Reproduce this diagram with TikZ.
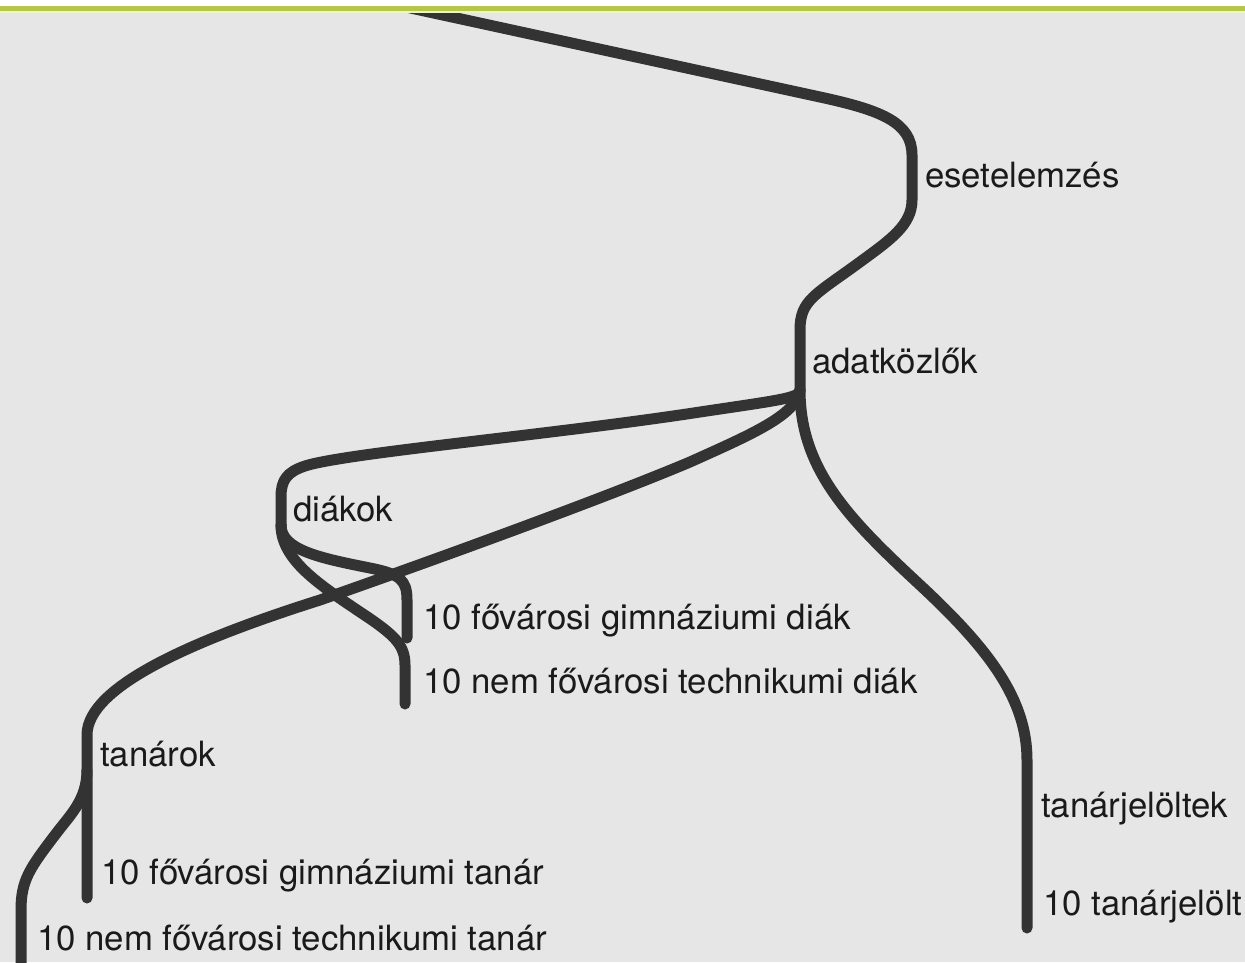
\documentclass[tikz,border=0pt]{standalone}
\usepackage{fontspec}
\setmainfont{TeX Gyre Heros}
\definecolor{bgc}{HTML}{E6E6E6}
\definecolor{wirec}{HTML}{333333}
\definecolor{txtc}{HTML}{1A1A1A}
\definecolor{greenc}{HTML}{B5C64B}
\definecolor{palec}{HTML}{EEF3C8}
\begin{document}
\begin{tikzpicture}[x=1pt,y=-1pt,
  wire/.style={line width=11pt, draw=wirec, line cap=round, line join=round},
  lbl/.style={anchor=base west, inner sep=0pt, text=txtc, font=\fontsize{34.8}{40}\selectfont}]
\useasboundingbox (0,0) rectangle (1245,962);
\clip (0,0) rectangle (1245,962);
\fill[bgc] (0,0) rectangle (1245,962);

% branching points
\coordinate (adat) at (800,390);
\coordinate (diak) at (281,525);
\coordinate (tanar) at (87,770);

% main line
\draw[wire] (360,-3) -- (820,97) .. controls (880,110) and (912,122) .. (912,155)
  -- (912,200) .. controls (912,225) and (890,240) .. (860,262)
  .. controls (815,295) and (800,300) .. (800,330) -- (adat);

% adatkozlok -> diakok
\draw[wire] (adat) .. controls (800,398) and (780,400) .. (700,412)
  .. controls (550,435) and (345,453) .. (305,466)
  .. controls (287,472) and (281,480) .. (281,497) -- (diak);

% adatkozlok -> tanarok
\draw[wire] (adat) .. controls (797,415) and (750,435) .. (690,462)
  .. controls (600,500) and (420,565) .. (320,600)
  .. controls (200,638) and (87,685) .. (87,735) -- (tanar) -- (87,898);

% adatkozlok -> tanarjeloltek
\draw[wire] (adat) .. controls (800,470) and (850,520) .. (920,585)
  .. controls (990,650) and (1027,700) .. (1027,760) -- (1027,928);

% diakok -> gimnaziumi diak
\draw[wire] (diak) .. controls (281,550) and (320,558) .. (370,568)
  .. controls (400,574) and (407,580) .. (407,600) -- (407,638);

% diakok -> technikumi diak
\draw[wire] (diak) .. controls (281,560) and (320,585) .. (360,612)
  .. controls (395,635) and (405,645) .. (405,665) -- (405,704);

% tanarok -> technikumi tanar
\draw[wire] (tanar) .. controls (87,800) and (70,815) .. (55,835)
  .. controls (30,868) and (21,880) .. (21,910) -- (21,980);

% header
\fill[white] (0,0) rectangle (1245,6);
\fill[greenc] (0,6) rectangle (1245,11);
\fill[palec] (0,11) rectangle (1245,13);

% labels
\node[lbl] (l1) at (925,187) {esetelemzés};
\node[lbl] (l2) at (812,373) {adatközlők};
\node[lbl] (l3) at (293,521) {diákok};
\node[lbl] (l4) at (423,629) {10 fővárosi gimnáziumi diák};
\node[lbl] (l5) at (423,693) {10 nem fővárosi technikumi diák};
\node[lbl] (l6) at (100,766) {tanárok};
\node[lbl] (l7) at (101,884) {10 fővárosi gimnáziumi tanár};
\node[lbl] (l8) at (37,950) {10 nem fővárosi technikumi tanár};
\node[lbl] (l9) at (1041,817) {tanárjelöltek};
\node[lbl] (l10) at (1043,915) {10 tanárjelölt};
\end{tikzpicture}
\end{document}
